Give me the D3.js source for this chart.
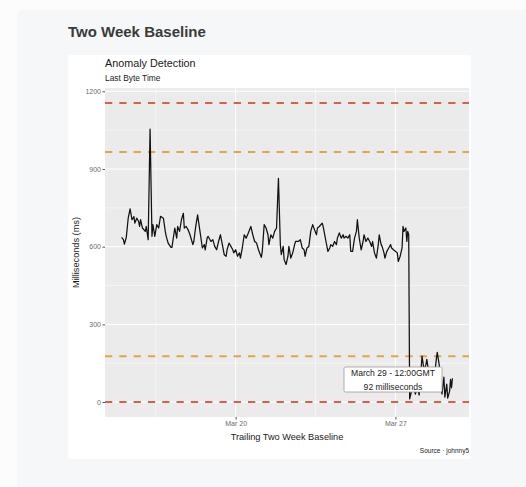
<!DOCTYPE html>
<html>
<head>
<meta charset="utf-8">
<script src="https://cdn.jsdelivr.net/npm/d3@7"></script>
<style>
  body { margin: 0; background: #fcfcfd; font-family: "Liberation Sans", Arial, sans-serif; }
  svg { display: block; }
</style>
</head>
<body>
<div id="chart"></div>
<script>
// data: hours since start, milliseconds
const startTime = "2019-03-15T00:00:00Z";
const hours = [0,2,3,5,7,9,11,13,14,16,18,19,20,22,25,26,28,30,32,33,35,37,39,41,44,46,47,49,52,53,56,58,59,61,63,65,66,68,70,72,75,76,78,80,81,83,85,87,88,90,91,94,96,98,100,102,104,106,108,110,111,113,115,117,118,120,122,124,125,127,129,131,133,136,138,140,142,144,147,148,150,152,154,155,157,159,161,163,165,167,168,170,171,173,175,176,178,180,182,183,186,188,190,192,193,195,197,199,201,203,205,206,208,211,212,213,215,217,219,220,222,224,226,227,229,231,233,234,236,238,240,241,243,245,247,248,250,252,254,255,257,259,261,263,264,266,268,270,271,273,274,276,277,279,281,283,284,286,288,290,291,293,295,296,297,299,300,301,302,303,305,307,309,311,313,315,316,318,320,321,323,324,326,327,329,331,332,334,335,337,339,340,342,343,345,346,347,348];
const latency = [636,627,610,636,710,746,704,716,691,710,697,678,704,672,659,678,627,1054,640,685,640,685,672,717,710,659,640,614,597,597,672,633,678,659,704,729,672,678,665,646,608,620,678,723,697,646,595,608,588,633,640,620,627,601,588,620,646,608,569,563,588,614,601,588,576,588,563,576,556,595,646,633,650,678,646,620,614,588,559,582,685,672,646,608,646,633,659,672,864,608,569,601,550,531,563,601,556,576,608,620,620,627,595,588,563,595,601,660,685,665,646,672,678,691,678,659,620,582,595,608,601,620,608,633,653,633,646,633,640,633,646,582,582,633,659,704,633,588,620,646,620,633,620,601,620,576,556,608,646,608,601,576,556,582,595,608,595,588,582,576,543,563,595,678,659,672,620,659,646,12,42,69,31,58,27,127,177,127,142,165,119,50,88,42,96,165,192,146,88,31,96,19,69,15,42,88,55,92];

const thresholds = [1155, 966, 177, 0];
const thresholdColors = ["#d6614b", "#dea64b", "#dea64b", "#d6614b"];
const yTicks = [0, 300, 600, 900, 1200];
const yMinor = [150, 450, 750, 1050];
const xTicks = ["2019-03-20T00:00:00Z", "2019-03-27T00:00:00Z"];
const xMinor = ["2019-03-16T12:00:00Z", "2019-03-23T12:00:00Z"];
const tooltipLines = ["March 29 - 12:00GMT", "92 milliseconds"];

const W = 526, H = 487;
const panel = { left: 105, right: 469, top: 88, bottom: 417 };

const t0 = new Date(startTime).getTime();
const points = hours.map((h, i) => ({ t: new Date(t0 + h * 3600e3), v: latency[i] }));

const svg = d3.select("#chart").append("svg").attr("width", W).attr("height", H);

// page card and chart image
svg.append("rect").attr("x", 17).attr("y", 10).attr("width", W).attr("height", H)
  .attr("rx", 6).attr("fill", "#f6f7f9");
svg.append("text").attr("x", 68).attr("y", 37).text("Two Week Baseline")
  .attr("font-size", 15).attr("font-weight", "bold").attr("fill", "#3a3a3a");
svg.append("rect").attr("x", 68).attr("y", 55).attr("width", 403).attr("height", 404)
  .attr("rx", 2).attr("fill", "#fff");

// scales (ggplot style 5% expansion)
const tExt = d3.extent(points, d => d.t);
const tPad = (tExt[1] - tExt[0]) * 0.05;
const x = d3.scaleUtc()
  .domain([new Date(+tExt[0] - tPad), new Date(+tExt[1] + tPad)])
  .range([panel.left, panel.right]);
const vMax = d3.max(thresholds.concat(latency)), vMin = d3.min(thresholds.concat(latency));
const vPad = (vMax - vMin) * 0.05;
const y = d3.scaleLinear().domain([vMin - vPad, vMax + vPad]).range([panel.bottom, panel.top]);

svg.append("rect").attr("x", panel.left).attr("y", panel.top)
  .attr("width", panel.right - panel.left).attr("height", panel.bottom - panel.top)
  .attr("fill", "#ebebeb");

const grid = svg.append("g");
grid.selectAll(".ymin").data(yMinor).join("line")
  .attr("x1", panel.left).attr("x2", panel.right)
  .attr("y1", d => y(d)).attr("y2", d => y(d))
  .attr("stroke", "#fff").attr("stroke-width", 0.5);
grid.selectAll(".xmin").data(xMinor).join("line")
  .attr("x1", d => x(new Date(d))).attr("x2", d => x(new Date(d)))
  .attr("y1", panel.top).attr("y2", panel.bottom)
  .attr("stroke", "#fff").attr("stroke-width", 0.5);
grid.selectAll(".ymaj").data(yTicks).join("line")
  .attr("x1", panel.left).attr("x2", panel.right)
  .attr("y1", d => y(d)).attr("y2", d => y(d))
  .attr("stroke", "#fff").attr("stroke-width", 1);
grid.selectAll(".xmaj").data(xTicks).join("line")
  .attr("x1", d => x(new Date(d))).attr("x2", d => x(new Date(d)))
  .attr("y1", panel.top).attr("y2", panel.bottom)
  .attr("stroke", "#fff").attr("stroke-width", 1);

// threshold lines
svg.append("g").selectAll("line").data(thresholds).join("line")
  .attr("x1", panel.left).attr("x2", panel.right)
  .attr("y1", d => y(d)).attr("y2", d => y(d))
  .attr("stroke", (d, i) => thresholdColors[i])
  .attr("stroke-width", 2).attr("stroke-dasharray", "7.3,7");

// series
svg.append("path").datum(points)
  .attr("d", d3.line().x(d => x(d.t)).y(d => y(d.v)))
  .attr("fill", "none").attr("stroke", "#111").attr("stroke-width", 1.25)
  .attr("stroke-linejoin", "round");

// axes
const yAxis = svg.append("g").attr("transform", `translate(${panel.left},0)`)
  .call(d3.axisLeft(y).tickValues(yTicks).tickSize(2.5).tickPadding(1.5).tickFormat(d3.format("d")));
const xAxis = svg.append("g").attr("transform", `translate(0,${panel.bottom})`)
  .call(d3.axisBottom(x).tickValues(xTicks.map(d => new Date(d))).tickSize(2.5).tickPadding(1.5)
    .tickFormat(d3.utcFormat("%b %d")));
[yAxis, xAxis].forEach(a => {
  a.select(".domain").remove();
  a.selectAll(".tick line").attr("stroke", "#555");
  a.selectAll(".tick text").attr("fill", "#6b6b6b").attr("font-size", 7)
    .attr("font-family", "Liberation Sans, Arial, sans-serif");
});

// titles
svg.append("text").attr("x", panel.left).attr("y", 66.5).text("Anomaly Detection")
  .attr("font-size", 10.8).attr("fill", "#1a1a1a");
svg.append("text").attr("x", panel.left).attr("y", 80.5).text("Last Byte Time")
  .attr("font-size", 8.4).attr("fill", "#1a1a1a");
svg.append("text").attr("x", (panel.left + panel.right) / 2).attr("y", 440)
  .attr("text-anchor", "middle").text("Trailing Two Week Baseline")
  .attr("font-size", 9.2).attr("fill", "#1a1a1a");
svg.append("text").attr("transform", `translate(79,${(panel.top + panel.bottom) / 2}) rotate(-90)`)
  .attr("text-anchor", "middle").text("Milliseconds (ms)")
  .attr("font-size", 9.2).attr("fill", "#1a1a1a");
svg.append("text").attr("x", panel.right).attr("y", 452.5).attr("text-anchor", "end")
  .text("Source · johnny5").attr("font-size", 6.5).attr("fill", "#1a1a1a");

// tooltip on last point
const tip = svg.append("g").attr("transform", "translate(344,367)");
tip.append("rect").attr("width", 98).attr("height", 25).attr("rx", 1.5)
  .attr("fill", "#fff").attr("stroke", "#999").attr("stroke-width", 0.8);
tip.selectAll("text").data(tooltipLines).join("text")
  .attr("x", 49).attr("y", (d, i) => 9 + i * 13.5).attr("text-anchor", "middle")
  .text(d => d).attr("font-size", 8.6).attr("fill", "#222");
</script>
</body>
</html>
